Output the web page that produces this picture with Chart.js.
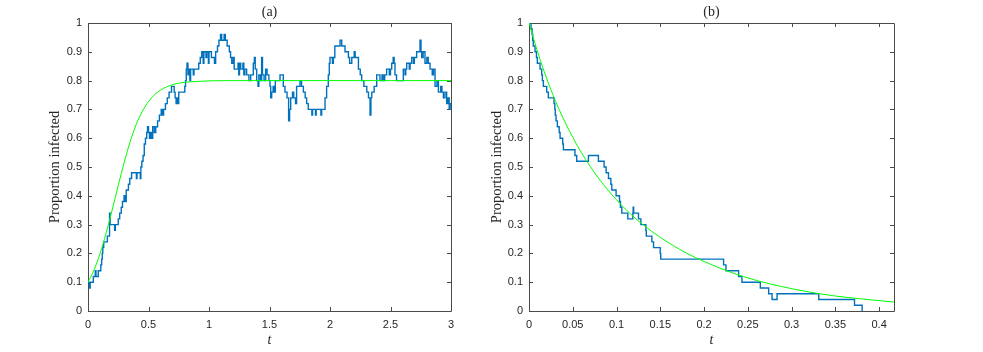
<!DOCTYPE html>
<html><head><meta charset="utf-8">
<script src="https://cdn.jsdelivr.net/npm/chart.js@4.4.1/dist/chart.umd.min.js"></script>
<style>
html,body{margin:0;padding:0;background:#fff;}
#wrap{position:relative;width:983px;height:352px;overflow:hidden;background:#fff;}
canvas{position:absolute;top:0;}
#ca{left:0;} #cb{left:480px;}
</style></head><body>
<div id="wrap"><canvas id="ca" width="480" height="352"></canvas><canvas id="cb" width="503" height="352"></canvas></div>
<script>
// ---------- Panel (a): stochastic path (step values) ----------
const aTimes = [0.000,0.012,0.018,0.044,0.060,0.066,0.085,0.106,0.113,0.118,0.122,0.130,0.160,0.178,0.183,0.220,0.226,0.250,0.262,0.275,0.285,0.298,0.306,0.316,0.334,0.345,0.360,0.400,0.405,0.432,0.437,0.445,0.455,0.465,0.475,0.485,0.492,0.500,0.508,0.515,0.525,0.535,0.548,0.560,0.575,0.590,0.605,0.615,0.625,0.640,0.655,0.670,0.690,0.712,0.720,0.728,0.735,0.742,0.750,0.800,0.806,0.812,0.818,0.826,0.832,0.842,0.848,0.870,0.876,0.915,0.928,0.940,0.952,0.958,0.975,0.982,0.995,1.000,1.020,1.045,1.055,1.070,1.082,1.095,1.105,1.125,1.135,1.150,1.168,1.178,1.188,1.200,1.208,1.240,1.246,1.252,1.262,1.280,1.288,1.296,1.311,1.330,1.345,1.366,1.375,1.382,1.394,1.405,1.412,1.425,1.435,1.442,1.455,1.468,1.480,1.495,1.504,1.510,1.518,1.530,1.537,1.548,1.587,1.614,1.628,1.645,1.658,1.666,1.675,1.690,1.700,1.715,1.724,1.752,1.765,1.780,1.795,1.807,1.820,1.850,1.856,1.880,1.886,1.925,1.931,1.959,1.972,1.986,1.994,2.000,2.020,2.028,2.040,2.083,2.097,2.124,2.152,2.162,2.180,2.200,2.208,2.235,2.250,2.262,2.280,2.304,2.318,2.331,2.338,2.345,2.365,2.386,2.413,2.430,2.440,2.452,2.468,2.490,2.500,2.510,2.522,2.530,2.537,2.550,2.606,2.620,2.626,2.634,2.655,2.662,2.675,2.690,2.697,2.716,2.744,2.752,2.758,2.770,2.785,2.800,2.812,2.827,2.845,2.855,2.868,2.884,2.896,2.915,2.925,2.937,2.950,2.964,2.975,2.985,2.993,3.000];
const aSim = [0.10,0.08,0.10,0.12,0.14,0.12,0.14,0.16,0.18,0.20,0.22,0.24,0.26,0.34,0.30,0.28,0.30,0.32,0.34,0.36,0.38,0.40,0.38,0.42,0.44,0.46,0.48,0.46,0.48,0.46,0.50,0.52,0.54,0.58,0.60,0.62,0.64,0.62,0.60,0.62,0.60,0.64,0.62,0.64,0.66,0.68,0.70,0.68,0.70,0.72,0.74,0.76,0.78,0.76,0.74,0.72,0.74,0.72,0.76,0.78,0.80,0.84,0.86,0.82,0.84,0.80,0.84,0.82,0.84,0.86,0.88,0.90,0.86,0.90,0.88,0.90,0.86,0.90,0.88,0.86,0.90,0.92,0.94,0.96,0.94,0.96,0.94,0.92,0.90,0.88,0.86,0.88,0.84,0.86,0.82,0.86,0.84,0.86,0.82,0.84,0.82,0.80,0.82,0.86,0.88,0.84,0.80,0.78,0.82,0.80,0.88,0.82,0.80,0.84,0.82,0.80,0.78,0.74,0.76,0.78,0.76,0.80,0.82,0.78,0.76,0.74,0.66,0.70,0.74,0.76,0.74,0.72,0.78,0.80,0.78,0.76,0.74,0.72,0.70,0.68,0.70,0.68,0.70,0.68,0.70,0.74,0.78,0.82,0.86,0.88,0.86,0.88,0.92,0.94,0.92,0.90,0.88,0.86,0.88,0.90,0.88,0.84,0.82,0.80,0.78,0.76,0.74,0.68,0.74,0.76,0.78,0.82,0.80,0.82,0.80,0.82,0.84,0.82,0.84,0.86,0.88,0.86,0.82,0.80,0.84,0.82,0.84,0.86,0.84,0.86,0.88,0.86,0.88,0.90,0.94,0.90,0.88,0.90,0.86,0.88,0.86,0.84,0.82,0.84,0.78,0.80,0.76,0.78,0.76,0.74,0.76,0.72,0.74,0.70,0.72,0.72];
// ---------- Panel (a): deterministic curve ----------
const aOdeT = [0,0.05,0.1,0.15,0.2,0.25,0.3,0.35,0.4,0.45,0.5,0.55,0.6,0.65,0.7,0.75,0.8,0.9,1.0,1.2,1.5,2,2.5,3];
const aOde  = [0.100,0.143,0.200,0.271,0.351,0.436,0.517,0.590,0.649,0.694,0.727,0.751,0.767,0.778,0.786,0.791,0.794,0.797,0.799,0.800,0.800,0.800,0.800,0.800];
// ---------- Panel (b): stochastic path ----------
const bTimes = [0,0.0023,0.0035,0.0042,0.0049,0.0069,0.0085,0.0095,0.0126,0.0145,0.0153,0.0164,0.0202,0.0221,0.0286,0.0295,0.0300,0.0309,0.0324,0.0345,0.0355,0.0385,0.0393,0.0525,0.0545,0.0679,0.0793,0.0858,0.0881,0.0908,0.0935,0.0946,0.0995,0.1034,0.1045,0.1060,0.1129,0.1186,0.1190,0.1196,0.1251,0.1278,0.1335,0.1340,0.1404,0.1423,0.1499,0.1505,0.2223,0.2250,0.2395,0.2433,0.2643,0.2738,0.2777,0.2834,0.3310,0.3719,0.3806];
const bSim   = [1.00,0.98,0.96,0.94,0.92,0.90,0.88,0.86,0.84,0.82,0.80,0.78,0.76,0.74,0.72,0.70,0.68,0.66,0.64,0.62,0.60,0.58,0.56,0.54,0.52,0.54,0.52,0.50,0.48,0.46,0.44,0.42,0.40,0.38,0.36,0.34,0.32,0.34,0.36,0.34,0.32,0.30,0.28,0.26,0.24,0.22,0.20,0.18,0.16,0.14,0.12,0.10,0.08,0.06,0.04,0.06,0.04,0.02,0.00];
// ---------- Panel (b): deterministic curve ----------
const bOdeT = [0,0.01,0.02,0.03,0.04,0.05,0.06,0.08,0.10,0.12,0.14,0.16,0.18,0.20,0.23,0.26,0.29,0.32,0.35,0.38,0.417];
const bOde  = [1.000,0.898,0.809,0.731,0.663,0.603,0.549,0.459,0.386,0.326,0.277,0.236,0.201,0.172,0.135,0.106,0.084,0.066,0.052,0.042,0.031];
// ---------- Ticks ----------
const aXTicks  = [0,0.5,1,1.5,2,2.5,3];
const aXLabels = ['0','0.5','1','1.5','2','2.5','3'];
const bXTicks  = [0,0.05,0.1,0.15,0.2,0.25,0.3,0.35,0.4];
const bXLabels = ['0','0.05','0.1','0.15','0.2','0.25','0.3','0.35','0.4'];
const yTicks   = [0,0.1,0.2,0.3,0.4,0.5,0.6,0.7,0.8,0.9,1];
const yLabels  = ['0','0.1','0.2','0.3','0.4','0.5','0.6','0.7','0.8','0.9','1'];
const aXMax = 3, bXMax = 0.417;

const BLUE = '#0072BD', GREEN = '#00ff00', AXIS = '#262626';
const pts = (xs, ys) => xs.map((x, i) => ({x: x, y: ys[i]}));

const boxPlugin = {
  id: 'box',
  beforeDatasetsDraw(chart) {
    const {ctx, chartArea: a, scales} = chart;
    ctx.save();
    ctx.strokeStyle = '#4a4a4a';
    ctx.lineWidth = 1;
    ctx.beginPath();
    ctx.rect(Math.round(a.left) + 0.5, Math.round(a.top) + 0.5, Math.round(a.right - a.left), Math.round(a.bottom - a.top));
    ctx.stroke();
    const L = 4;
    ctx.beginPath();
    scales.x.ticks.forEach(t => {
      const px = Math.round(scales.x.getPixelForValue(t.value)) + 0.5;
      ctx.moveTo(px, a.bottom); ctx.lineTo(px, a.bottom - L);
      ctx.moveTo(px, a.top); ctx.lineTo(px, a.top + L);
    });
    scales.y.ticks.forEach(t => {
      const py = Math.round(scales.y.getPixelForValue(t.value)) + 0.5;
      ctx.moveTo(a.left, py); ctx.lineTo(a.left + L, py);
      ctx.moveTo(a.right, py); ctx.lineTo(a.right - L, py);
    });
    ctx.stroke();
    ctx.restore();
  }
};

function makeChart(id, cfg) {
  const tickFont = {family: '"Liberation Sans", Arial, sans-serif', size: 11};
  const serif = '"Liberation Serif", "Times New Roman", serif';
  return new Chart(document.getElementById(id), {
    type: 'line',
    data: {datasets: [
      {data: cfg.ode, borderColor: GREEN, borderWidth: 1, pointRadius: 0, cubicInterpolationMode: 'monotone', fill: false},
      {data: cfg.sim, borderColor: BLUE, borderWidth: 1.4, pointRadius: 0, stepped: 'before', fill: false}
    ]},
    options: {
      responsive: false, animation: false, devicePixelRatio: 1,
      layout: {padding: {left: 0, right: cfg.padRight, top: 0, bottom: 0}},
      plugins: {
        legend: {display: false}, tooltip: {enabled: false},
        title: {display: true, text: cfg.title, fullSize: false, color: AXIS,
          font: {family: serif, size: 14, weight: 'normal', lineHeight: '15px'}, padding: {top: 5, bottom: 3}}
      },
      scales: {
        x: {type: 'linear', min: 0, max: cfg.xMax,
          grid: {display: false, drawTicks: false}, border: {display: false},
          afterBuildTicks: s => { s.ticks = cfg.xTicks.map(v => ({value: v})); },
          afterFit: s => { s.height = 41; },
          ticks: {autoSkip: false, maxRotation: 0, padding: 7, color: AXIS, font: tickFont,
            callback: (v, i) => cfg.xLabels[i]},
          title: {display: true, text: 't', color: AXIS, padding: {top: 0, bottom: 3},
            font: {family: serif, size: 14, style: 'italic', lineHeight: 1.2}}
        },
        y: {type: 'linear', min: 0, max: 1,
          grid: {display: false, drawTicks: false}, border: {display: false},
          afterBuildTicks: s => { s.ticks = yTicks.map(v => ({value: v})); },
          afterFit: s => { s.width = cfg.yWidth; },
          ticks: {autoSkip: false, padding: 6, color: AXIS, font: tickFont,
            callback: (v, i) => yLabels[i]},
          title: {display: true, text: 'Proportion infected', color: AXIS, padding: {top: cfg.yTitlePad, bottom: 0},
            font: {family: serif, size: 14.5, lineHeight: 1.2}}
        }
      }
    },
    plugins: [boxPlugin]
  });
}

makeChart('ca', {title: '(a)', sim: pts(aTimes, aSim), ode: pts(aOdeT, aOde), xMax: aXMax,
  xTicks: aXTicks, xLabels: aXLabels, padRight: 29, yWidth: 88, yTitlePad: 46});
makeChart('cb', {title: '(b)', sim: pts(bTimes, bSim), ode: pts(bOdeT, bOde), xMax: bXMax,
  xTicks: bXTicks, xLabels: bXLabels, padRight: 89, yWidth: 49, yTitlePad: 8});
</script>
</body></html>
